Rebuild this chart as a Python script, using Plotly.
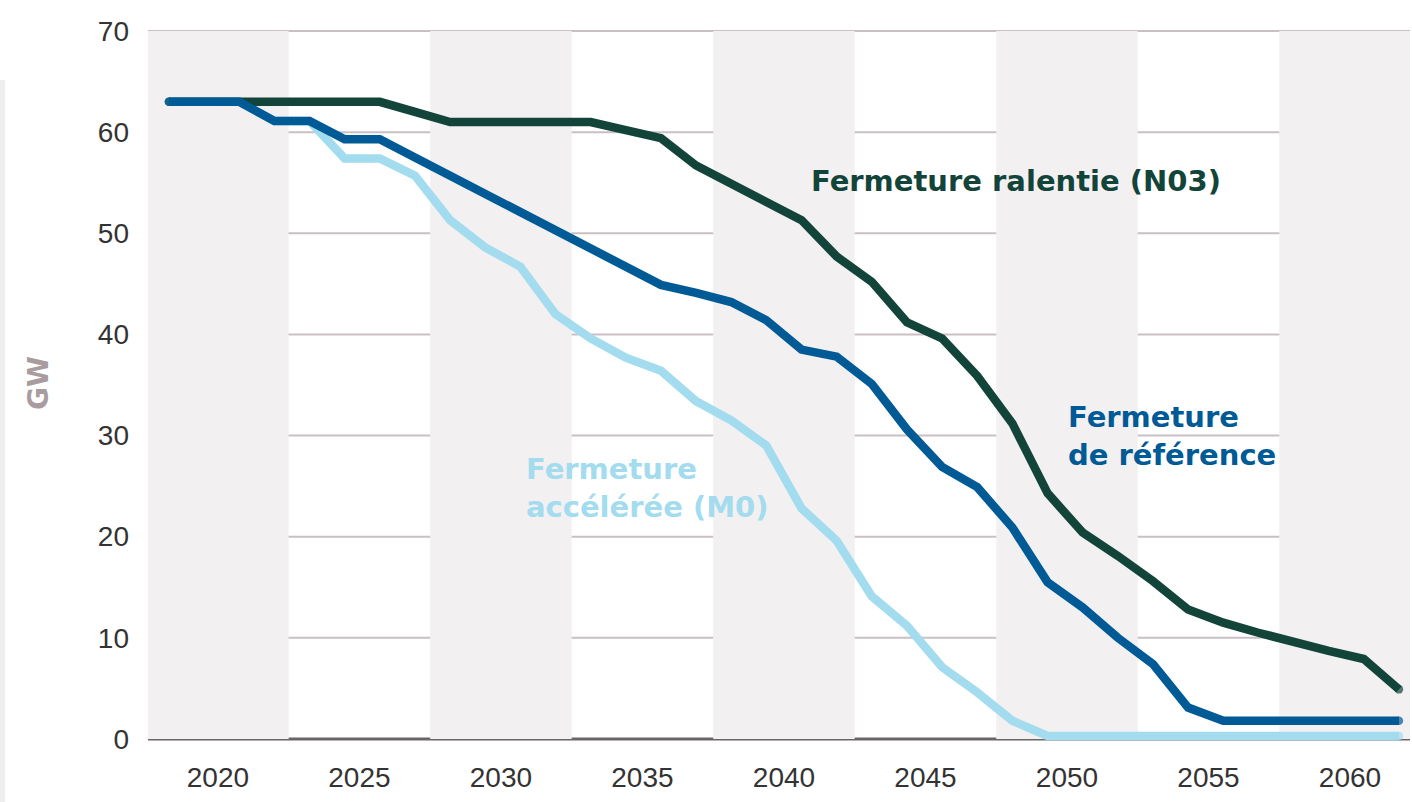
import numpy as np
import plotly.graph_objects as go

# ---- data ----
n_points = 36
x_start, x_end = 2018.27, 2061.73
x_vals = list(np.linspace(x_start, x_end, n_points))

reference = [63, 63, 63, 61.1, 61.1, 59.3, 59.3, 57.5, 55.7, 53.9, 52.1, 50.3,
             48.5, 46.7, 44.9, 44.1, 43.2, 41.4, 38.5, 37.8, 35.1, 30.6, 26.9, 24.9,
             20.9, 15.5, 13.0, 10.0, 7.4, 3.1, 1.8, 1.8, 1.8, 1.8, 1.8, 1.8]
ralentie = [63, 63, 63, 63, 63, 63, 63, 62.0, 61.0, 61.0, 61.0, 61.0,
            61.0, 60.2, 59.4, 56.7, 54.9, 53.1, 51.3, 47.7, 45.2, 41.2, 39.6, 35.9,
            31.2, 24.3, 20.4, 18.1, 15.6, 12.8, 11.5, 10.5, 9.5, 8.7, 7.9, 4.9]
acceleree = [63, 63, 63, 61.1, 61.1, 57.4, 57.4, 55.7, 51.3, 48.6, 46.7, 42.0,
             39.6, 37.7, 36.4, 33.4, 31.5, 29.0, 22.8, 19.6, 14.1, 11.2, 7.1, 4.6,
             1.8, 0.3, 0.3, 0.3, 0.3, 0.3, 0.3, 0.3, 0.3, 0.3, 0.3, 0.3]

x_ticks = [2020, 2025, 2030, 2035, 2040, 2045, 2050, 2055, 2060]
y_ticks = [0, 10, 20, 30, 40, 50, 60, 70]
band_centers = [2020, 2030, 2040, 2050, 2060]

# ---- style ----
C_DARK = "#12443a"
C_BLUE = "#005a96"
C_LIGHT = "#a2dcee"
BAND = "#f2f0f1"
GRID = "#cbbfc6"
W = 8.5

fig = go.Figure()

def add_line(y, color):
    sizes = [W] + [0] * (len(y) - 2) + [W]
    fig.add_trace(go.Scatter(
        x=x_vals, y=y, mode="lines+markers",
        line=dict(color=color, width=W),
        marker=dict(color=color, size=sizes, line=dict(width=0)),
        hoverinfo="skip", showlegend=False))

add_line(acceleree, C_LIGHT)
add_line(ralentie, C_DARK)
add_line(reference, C_BLUE)

L, R, T, B = 148, 2, 28, 56
PW, PH = 1412 - L - R, 802 - T - B

shapes = []
for c in band_centers:
    shapes.append(dict(type="rect", xref="x", yref="y", x0=c - 2.5, x1=c + 2.5,
                       y0=0, y1=70, fillcolor=BAND, line=dict(width=0), layer="below"))
for v in y_ticks[1:]:
    shapes.append(dict(type="line", xref="paper", yref="y", x0=0, x1=1, y0=v, y1=v,
                       line=dict(color=GRID, width=2), layer="between"))
shapes.append(dict(type="line", xref="paper", yref="y", x0=0, x1=1, y0=0, y1=0,
                   line=dict(color="#6a6667", width=3), layer="between"))
# thin gray strip on the far left
shapes.append(dict(type="rect", xref="paper", yref="paper",
                   x0=-L / PW, x1=(5 - L) / PW, y0=-B / PH, y1=(802 - B - 80) / PH,
                   fillcolor="#eeeeee", line=dict(width=0), layer="below"))

label_font = "DejaVu Sans, Verdana, sans-serif"
annotations = [
    dict(x=2040.9, y=55.2, text="<b>Fermeture ralentie (N03)</b>", xanchor="left",
         yanchor="middle", showarrow=False, align="left",
         font=dict(family=label_font, size=29, color=C_DARK)),
    dict(x=2049.95, y=30.0, text="<b>Fermeture<br>de référence</b>", xanchor="left",
         yanchor="middle", showarrow=False, align="left",
         font=dict(family=label_font, size=29, color=C_BLUE)),
    dict(x=2030.8, y=24.8, text="<b>Fermeture<br>accélérée (M0)</b>", xanchor="left",
         yanchor="middle", showarrow=False, align="left",
         font=dict(family=label_font, size=29, color=C_LIGHT)),
    dict(xref="paper", yref="paper", x=(38 - L) / PW, y=(802 - B - 383) / PH,
         text="<b>GW</b>", textangle=-90, showarrow=False,
         xanchor="center", yanchor="middle",
         font=dict(family=label_font, size=28, color="#a99c9f")),
]

tick_font = dict(family="Liberation Sans Narrow, Arial Narrow, Liberation Sans, sans-serif",
                 size=28, color="#333333")

fig.update_layout(
    width=1412, height=802,
    margin=dict(l=L, r=R, t=T, b=B, autoexpand=False),
    paper_bgcolor="white", plot_bgcolor="white",
    shapes=shapes, annotations=annotations,
    xaxis=dict(range=[2017.53, 2062.12], tickvals=x_ticks, ticktext=[str(t) for t in x_ticks],
               showgrid=False, zeroline=False, showline=False, ticks="",
               tickfont=tick_font, ticklabelstandoff=12, automargin=False),
    yaxis=dict(range=[-0.7, 70.3], tickvals=y_ticks, ticktext=[str(t) for t in y_ticks],
               showgrid=False, zeroline=False, showline=False, ticks="",
               tickfont=tick_font, ticklabelstandoff=18, automargin=False),
)

fig.write_html("out.html", config={"displayModeBar": False},
               post_script="document.body.style.margin='0px';")
